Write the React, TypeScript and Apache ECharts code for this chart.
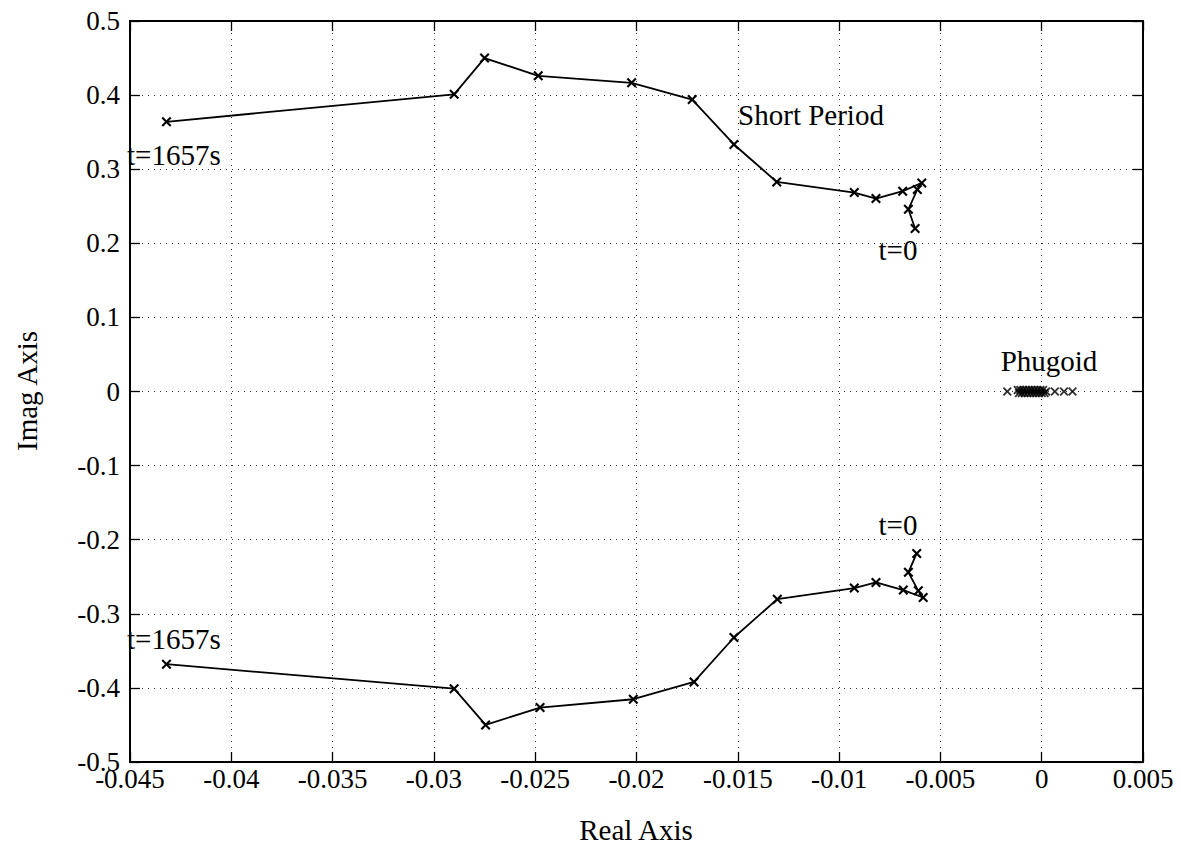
import React, { useEffect, useRef } from "react";
import * as echarts from "echarts";

// Short-period poles, upper branch (from t=1657s to t=0)
const upperReal = [-0.0432, -0.0290, -0.0275, -0.02485, -0.02024, -0.01725, -0.01519, -0.01308, -0.00925, -0.00818, -0.00686, -0.00592, -0.00614, -0.00658, -0.00625];
const upperImag = [0.364, 0.401, 0.450, 0.426, 0.4166, 0.394, 0.3334, 0.2828, 0.2685, 0.2604, 0.2703, 0.2815, 0.2726, 0.2459, 0.2199];
// Short-period poles, lower branch
const lowerReal = [-0.0432, -0.0290, -0.02745, -0.02476, -0.02016, -0.01716, -0.01519, -0.01305, -0.00925, -0.00818, -0.00683, -0.00585, -0.00609, -0.00658, -0.00617];
const lowerImag = [-0.368, -0.401, -0.450, -0.4266, -0.4153, -0.3919, -0.332, -0.2802, -0.2653, -0.2577, -0.268, -0.278, -0.269, -0.244, -0.2185];
// Phugoid poles (dense cluster near the origin)
const phugoidReal = [-0.0017, -0.00118, -0.00112, -0.00105, -0.00098, -0.00091, -0.00084, -0.00077, -0.0007, -0.00063, -0.00056, -0.00049, -0.00042, -0.00035, -0.00028, -0.00021, -0.00014, -0.00007, 0.0, 0.00007, 0.00014, 0.00022, 0.00065, 0.0011, 0.00152];
const phugoidImag = [0, 0.002, -0.002, 0.002, -0.002, 0.002, -0.002, 0.002, -0.002, 0.002, -0.002, 0.002, -0.002, 0.002, -0.002, 0.002, -0.002, 0.002, -0.002, 0.002, -0.002, 0, 0, 0, 0];

const xTicks = { min: -0.045, max: 0.005, interval: 0.005 };
const yTicks = { min: -0.5, max: 0.5, interval: 0.1 };

const X_SYMBOL =
  "path://M0,1.5L1.5,0L5,3.5L8.5,0L10,1.5L6.5,5L10,8.5L8.5,10L5,6.5L1.5,10L0,8.5L3.5,5Z";

const FONT = "'Liberation Serif', 'DejaVu Serif', serif";

const fmt = (v: number) => {
  const r = parseFloat(v.toFixed(4));
  return r === 0 ? "0" : String(r);
};

export default function App() {
  const ref = useRef<HTMLDivElement>(null);
  useEffect(() => {
    document.body.style.margin = "0";
    const chart = echarts.init(ref.current!, undefined, { renderer: "svg" });
    const pairs = (xs: number[], ys: number[]) => xs.map((x, i) => [x, ys[i]]);
    const gridLine = { show: true, lineStyle: { color: "#333", width: 1, type: [1, 5] as any } };
    const axisLine = { show: true, onZero: false, lineStyle: { color: "#000", width: 2 } };
    const tick = { show: true, inside: true, length: 10, lineStyle: { color: "#000", width: 1.3 } };
    const label = { fontFamily: FONT, fontSize: 27, color: "#000" };
    const text = (t: string, x: number, y: number, align: string, extra: any = {}) => ({
      type: "text", x, y, ...extra,
      style: { text: t, font: `29px ${FONT}`, fill: "#000", textAlign: align, textVerticalAlign: "middle" },
    });
    chart.setOption({
      animation: false,
      backgroundColor: "#fff",
      grid: { left: 130, top: 21, right: 38, bottom: 100, containLabel: false },
      xAxis: [
        {
          type: "value", position: "bottom", ...xTicks,
          axisLine, axisTick: tick, splitLine: gridLine,
          axisLabel: { ...label, margin: 3, formatter: fmt },
        },
        {
          type: "value", position: "top", ...xTicks,
          axisLine, axisTick: tick, splitLine: { show: false },
          axisLabel: { show: false },
        },
      ],
      yAxis: [
        {
          type: "value", position: "left", ...yTicks,
          axisLine, axisTick: tick, splitLine: gridLine,
          axisLabel: { ...label, margin: 10, formatter: fmt },
        },
        {
          type: "value", position: "right", ...yTicks,
          axisLine, axisTick: tick, splitLine: { show: false },
          axisLabel: { show: false },
        },
      ],
      series: [
        {
          type: "line", data: pairs(upperReal, upperImag),
          lineStyle: { color: "#000", width: 1.8 },
          symbol: X_SYMBOL, symbolSize: 10, itemStyle: { color: "#000" },
        },
        {
          type: "line", data: pairs(lowerReal, lowerImag),
          lineStyle: { color: "#000", width: 1.8 },
          symbol: X_SYMBOL, symbolSize: 10, itemStyle: { color: "#000" },
        },
        {
          type: "scatter", data: pairs(phugoidReal, phugoidImag),
          symbol: X_SYMBOL, symbolSize: 9, itemStyle: { color: "#000" },
        },
      ],
      graphic: [
        text("Short Period", 811, 115, "center"),
        text("t=1657s", 127, 155, "left"),
        text("t=1657s", 127, 639, "left"),
        text("t=0", 898, 250, "center"),
        text("t=0", 898, 525, "center"),
        text("Phugoid", 1049, 361, "center"),
        text("Real Axis", 636, 830, "center"),
        text("Imag Axis", 27, 391, "center", { rotation: Math.PI / 2 }),
      ],
    });
    return () => chart.dispose();
  }, []);
  return <div ref={ref} style={{ width: 1181, height: 862 }} />;
}
